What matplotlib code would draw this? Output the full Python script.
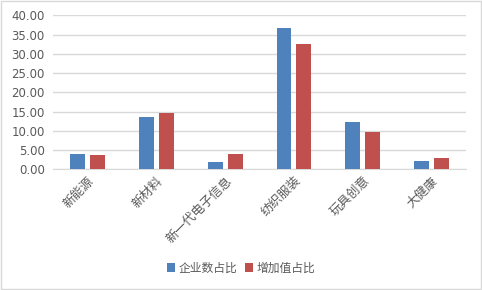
import matplotlib
matplotlib.use('Agg')
import matplotlib.pyplot as plt
import numpy as np
from matplotlib.patches import Rectangle

plt.rcParams['font.family'] = ['Noto Sans CJK SC', 'DejaVu Sans']

# data
categories = ['新能源', '新材料', '新一代电子信息', '纺织服装', '玩具创意', '大健康']
qiye = [3.9, 13.6, 1.9, 36.7, 12.3, 2.2]
zengjia = [3.7, 14.6, 4.0, 32.5, 9.7, 2.9]
series_names = ['企业数占比', '增加值占比']

fig = plt.figure(figsize=(4.82, 2.90), dpi=100)
ax = fig.add_axes([0.110, 0.416, 0.857, 0.531])

x = np.arange(len(categories))
w = 0.217
ax.bar(x - 0.145, qiye, w, color='#4F81BD', label=series_names[0], zorder=3)
ax.bar(x + 0.145, zengjia, w, color='#C0504D', label=series_names[1], zorder=3)

ax.set_xlim(-0.5, len(categories) - 0.5)
ax.set_ylim(0, 40)
ax.set_yticks(np.arange(0, 41, 5))
ax.set_yticklabels(['%.2f' % v for v in np.arange(0, 41, 5)], family='DejaVu Sans')
ax.yaxis.grid(True, color='#D9D9D9', linewidth=1, zorder=0)
for s in ['top', 'right', 'left']:
    ax.spines[s].set_visible(False)
ax.spines['bottom'].set_color('#D9D9D9')
ax.tick_params(axis='both', length=0, colors='#595959', labelsize=8.5)
ax.tick_params(axis='y', pad=6)
ax.set_xticks(x)
ax.set_xticklabels(categories, rotation=45, ha='right', rotation_mode='anchor', fontsize=9)

leg = fig.legend(loc='center', bbox_to_anchor=(0.5, 0.075), ncol=2, frameon=False,
                 fontsize=8.5, handlelength=0.7, handleheight=0.7, handletextpad=0.3,
                 columnspacing=0.6)
for t in leg.get_texts():
    t.set_color('#595959')

fig.patches.append(Rectangle((0.002, 0.003), 0.995, 0.993, transform=fig.transFigure,
                             fill=False, edgecolor='#D9D9D9', linewidth=1))

fig.savefig('out.png', dpi=100)
